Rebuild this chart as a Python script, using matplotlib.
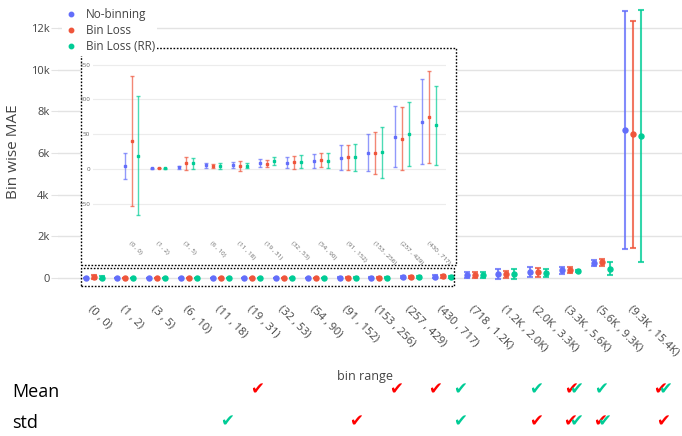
import matplotlib
matplotlib.use('Agg')
import matplotlib.pyplot as plt
from matplotlib.patches import Rectangle
from matplotlib.lines import Line2D
from matplotlib.colors import to_rgba
from matplotlib.transforms import blended_transform_factory
import numpy as np

plt.rcParams['font.family'] = ['Open Sans', 'DejaVu Sans']

bins = ['(0 , 0)', '(1 , 2)', '(3 , 5)', '(6 , 10)', '(11 , 18)', '(19 , 31)',
        '(32 , 53)', '(54 , 90)', '(91 , 152)', '(153 , 256)', '(257 , 429)',
        '(430 , 717)', '(718 , 1.2K)', '(1.2K , 2.0K)', '(2.0K , 3.3K)',
        '(3.3K , 5.6K)', '(5.6K , 9.3K)', '(9.3K , 15.4K)']
names = ['No-binning', 'Bin Loss', 'Bin Loss (RR)']
colors = ['#636efa', '#ef553b', '#00cc96']

mean_nb = [3.8, 0.5, 2, 4.8, 4.8, 8.2, 8.7, 11, 15.9, 23, 46, 67.8,
           140, 192, 288, 367, 720, 7100]
std_nb = [19.2, 0.5, 2, 3.4, 4.3, 5.3, 8.0, 10.1, 17.8, 26.7, 44, 61.4,
          137, 226, 240, 175, 144, 5690]
mean_bl = [40, 1, 7.7, 4.3, 4.3, 7.2, 9.1, 12, 16.8, 23, 43.3, 74.5,
           140, 175, 271, 384, 758, 6890]
std_bl = [93, 0.5, 9.7, 3.2, 7.2, 4.8, 8.9, 10.1, 18, 30.3, 45.5, 66,
          137, 175, 223, 130, 168, 5445]
mean_rr = [18.8, 0.5, 7.7, 4.3, 4.3, 11, 10, 11.5, 16.3, 23.6, 49.5, 62.5,
           144, 178, 233, 350, 456, 6800]
std_rr = [86, 0.5, 8.2, 4.1, 3.9, 5.3, 9.4, 10.6, 19.3, 36.3, 46, 57,
          144, 240, 200, 40, 298, 6045]

n_inset = 12  # bins shown in the zoomed box

# check marks under the chart, x in bin-index units
mean_red = [5.15, 9.53, 10.76, 15.04, 17.84]
mean_green = [11.54, 13.94, 15.2, 15.98, 18.0]
std_red = [8.27, 13.94, 15.0, 15.95, 17.94]
std_green = [4.20, 11.54, 15.2, 16.08]

W, H = 682, 436
def fx(px): return px / W
def fy(py): return 1 - py / H

means = [mean_nb, mean_bl, mean_rr]
stds = [std_nb, std_bl, std_rr]
offsets = [-0.25, 0, 0.25]
txt = '#444444'

fig = plt.figure(figsize=(6.82, 4.36), dpi=100)
ax = fig.add_axes([fx(58), fy(292), fx(682) - fx(58), fy(5) - fy(292)])

x = np.arange(len(bins))
for k in range(3):
    ax.errorbar(x + offsets[k], means[k], yerr=stds[k], fmt='o', ms=3.6,
                color=colors[k], ecolor=to_rgba(colors[k], 0.8), elinewidth=1.5,
                capsize=2.5, capthick=1.5, zorder=3)

ax.set_xlim(-1.12, 18.53)
ax.set_ylim(-670, 13100)
ax.set_yticks(range(0, 12001, 2000))
ax.set_yticklabels(['0', '2k', '4k', '6k', '8k', '10k', '12k'])
ax.grid(axis='y', color='#e3e3e3', lw=1)
ax.set_axisbelow(True)
for s in ax.spines.values():
    s.set_visible(False)
ax.tick_params(axis='y', length=5, color='#e3e3e3', labelsize=8, labelcolor=txt, pad=1)
ax.set_xticks(x)
ax.set_xticklabels(bins, rotation=-45, ha='left', va='top', rotation_mode='anchor',
                   fontsize=8, color=txt)
ax.tick_params(axis='x', length=0, pad=8)

# zoom boxes
dot = (0, (1.2, 1.2))
fig.add_artist(Rectangle((fx(81), fy(265)), fx(456) - fx(81), fy(47.5) - fy(265),
                         transform=fig.transFigure, facecolor='white', edgecolor='black',
                         ls=dot, lw=1, zorder=1))
fig.add_artist(Rectangle((fx(81), fy(286)), fx(454) - fx(81), fy(267.5) - fy(286),
                         transform=fig.transFigure, fill=False, edgecolor='black',
                         ls=dot, lw=1, zorder=1))

ins = fig.add_axes([fx(93), fy(232), fx(446) - fx(93), fy(52) - fy(232)], zorder=2)
ins.patch.set_alpha(0)
xi = np.arange(n_inset)
for k in range(3):
    ins.errorbar(xi + offsets[k], means[k][:n_inset], yerr=stds[k][:n_inset], fmt='s',
                 ms=1.7, color=colors[k], ecolor=to_rgba(colors[k], 0.7), elinewidth=1,
                 capsize=1.3, capthick=1, zorder=3)
ins.set_xlim(-1.43, 11.62)
ins.set_ylim(-91, 168)
ins.set_yticks([-50, 0, 50, 100, 150])
ins.grid(axis='y', color='#ececec', lw=0.8)
ins.set_axisbelow(True)
for s in ins.spines.values():
    s.set_visible(False)
ins.tick_params(axis='y', length=0, labelsize=4.5, labelcolor='#666666', pad=2)
ins.set_xticks(xi)
ins.set_xticklabels(bins[:n_inset], rotation=-45, ha='left', va='top',
                    rotation_mode='anchor', fontsize=4.5, color='#666666')
ins.tick_params(axis='x', length=0, pad=6)

handles = [Line2D([], [], marker='o', ls='', color=c, ms=3.2) for c in colors]
fig.legend(handles, names, loc='upper left', bbox_to_anchor=(fx(56), fy(0)),
           frameon=True, facecolor='white', edgecolor='none', framealpha=1,
           fontsize=8.5, handletextpad=0.6, labelspacing=0.25, borderpad=0.2,
           handlelength=1.2, labelcolor=txt)

fig.text(fx(14), fy(152), 'Bin wise MAE', rotation=90, ha='center', va='center',
         fontsize=11, color=txt)
fig.text(fx(365), fy(376), 'bin range', ha='center', va='center', fontsize=9, color=txt)

fig.text(fx(12), fy(392), 'Mean', va='center', fontsize=13)
fig.text(fx(12), fy(423), 'std', va='center', fontsize=13)

tr = blended_transform_factory(ax.transData, fig.transFigure)
for xs, yrow, col in [(mean_red, 390, 'red'), (mean_green, 390, '#00cc96'),
                      (std_red, 422, 'red'), (std_green, 422, '#00cc96')]:
    for xv in xs:
        ax.text(xv, fy(yrow), '\u2714', transform=tr, color=col, fontsize=12,
                ha='center', va='center', clip_on=False)

fig.savefig('out.png', dpi=100)
